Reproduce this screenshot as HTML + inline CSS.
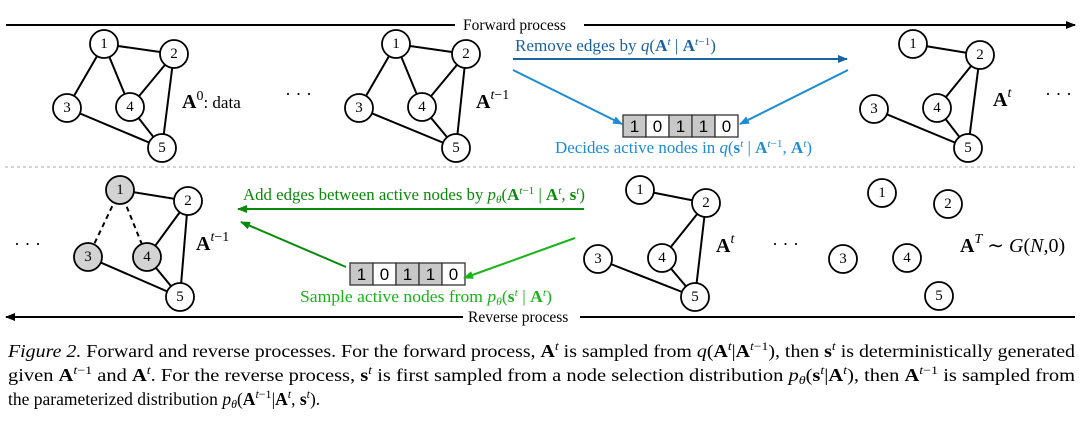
<!DOCTYPE html>
<html><head><meta charset="utf-8"><style>
html,body{margin:0;padding:0;background:#fff;}
svg{display:block;font-family:"Liberation Serif",serif;}
.n{font-size:15px;text-anchor:middle;dominant-baseline:central;}
</style></head><body>
<svg width="1080" height="433" viewBox="0 0 1080 433" xmlns="http://www.w3.org/2000/svg">
<defs>
<marker id="ak" markerWidth="10" markerHeight="8" refX="9" refY="4" orient="auto" markerUnits="userSpaceOnUse"><path d="M0,0 L10,4 L0,8 z" fill="#000"/></marker>
<marker id="ab" markerWidth="10" markerHeight="8" refX="9" refY="4" orient="auto" markerUnits="userSpaceOnUse"><path d="M0,0 L10,4 L0,8 z" fill="#1b62a0"/></marker>
<marker id="ac" markerWidth="10" markerHeight="8" refX="9" refY="4" orient="auto" markerUnits="userSpaceOnUse"><path d="M0,0 L10,4 L0,8 z" fill="#1e8bd6"/></marker>
<marker id="ag" markerWidth="10" markerHeight="8" refX="9" refY="4" orient="auto" markerUnits="userSpaceOnUse"><path d="M0,0 L10,4 L0,8 z" fill="#0a8a0a"/></marker>
<marker id="al" markerWidth="10" markerHeight="8" refX="9" refY="4" orient="auto" markerUnits="userSpaceOnUse"><path d="M0,0 L10,4 L0,8 z" fill="#1ab31a"/></marker>
</defs>

<line x1="6" y1="25" x2="455" y2="25" stroke="#000" stroke-width="2"/>
<text x="463" y="30" font-size="15.5">Forward process</text>
<line x1="584" y1="25" x2="1075" y2="25" stroke="#000" stroke-width="2" marker-end="url(#ak)"/>

<g stroke="#000" stroke-width="2">
<line x1="104" y1="44" x2="174" y2="54"/><line x1="104" y1="44" x2="67" y2="108"/><line x1="104" y1="44" x2="130" y2="107"/>
<line x1="174" y1="54" x2="130" y2="107"/><line x1="174" y1="54" x2="162" y2="148"/><line x1="67" y1="108" x2="162" y2="148"/><line x1="130" y1="107" x2="162" y2="148"/>
<line x1="396" y1="44" x2="466" y2="54"/><line x1="396" y1="44" x2="359" y2="108"/><line x1="396" y1="44" x2="422" y2="107"/>
<line x1="466" y1="54" x2="422" y2="107"/><line x1="466" y1="54" x2="456" y2="148"/><line x1="359" y1="108" x2="456" y2="148"/><line x1="422" y1="107" x2="456" y2="148"/>
<line x1="913" y1="44" x2="980" y2="55"/><line x1="980" y1="55" x2="937" y2="108"/><line x1="980" y1="55" x2="968" y2="148"/><line x1="874" y1="109" x2="968" y2="148"/><line x1="937" y1="108" x2="968" y2="148"/>
<line x1="120" y1="190" x2="188" y2="201"/><line x1="188" y1="201" x2="147" y2="257"/><line x1="188" y1="201" x2="180" y2="297"/><line x1="88" y1="257" x2="180" y2="297"/><line x1="147" y1="257" x2="180" y2="297"/>
<line x1="120" y1="190" x2="88" y2="257" stroke-dasharray="5,4"/><line x1="120" y1="190" x2="147" y2="257" stroke-dasharray="5,4"/>
<line x1="640" y1="190" x2="706" y2="203"/><line x1="706" y1="203" x2="662" y2="258"/><line x1="706" y1="203" x2="695" y2="297"/><line x1="598" y1="259" x2="695" y2="297"/><line x1="662" y1="258" x2="695" y2="297"/>
</g>

<g stroke="#000" stroke-width="1.8" fill="#fff">
<circle cx="104" cy="44" r="14"/><circle cx="174" cy="54" r="14"/><circle cx="67" cy="108" r="14"/><circle cx="130" cy="107" r="14"/><circle cx="162" cy="148" r="14"/>
<circle cx="396" cy="44" r="14"/><circle cx="466" cy="54" r="14"/><circle cx="359" cy="108" r="14"/><circle cx="422" cy="107" r="14"/><circle cx="456" cy="148" r="14"/>
<circle cx="913" cy="44" r="14"/><circle cx="980" cy="55" r="14"/><circle cx="874" cy="109" r="14"/><circle cx="937" cy="108" r="14"/><circle cx="968" cy="148" r="14"/>
<circle cx="120" cy="190" r="14" fill="#d3d3d3"/><circle cx="188" cy="201" r="14"/><circle cx="88" cy="257" r="14" fill="#d3d3d3"/><circle cx="147" cy="257" r="14" fill="#d3d3d3"/><circle cx="180" cy="297" r="14"/>
<circle cx="640" cy="190" r="14"/><circle cx="706" cy="203" r="14"/><circle cx="598" cy="259" r="14"/><circle cx="662" cy="258" r="14"/><circle cx="695" cy="297" r="14"/>
<circle cx="882" cy="193" r="14"/><circle cx="948" cy="204" r="14"/><circle cx="843" cy="259" r="14"/><circle cx="907" cy="258" r="14"/><circle cx="939" cy="296" r="14"/>
</g>
<g class="n">
<text x="104" y="44">1</text><text x="174" y="54">2</text><text x="67" y="108">3</text><text x="130" y="107">4</text><text x="162" y="148">5</text>
<text x="396" y="44">1</text><text x="466" y="54">2</text><text x="359" y="108">3</text><text x="422" y="107">4</text><text x="456" y="148">5</text>
<text x="913" y="44">1</text><text x="980" y="55">2</text><text x="874" y="109">3</text><text x="937" y="108">4</text><text x="968" y="148">5</text>
<text x="120" y="190">1</text><text x="188" y="201">2</text><text x="88" y="257">3</text><text x="147" y="257">4</text><text x="180" y="297">5</text>
<text x="640" y="190">1</text><text x="706" y="203">2</text><text x="598" y="259">3</text><text x="662" y="258">4</text><text x="695" y="297">5</text>
<text x="882" y="193">1</text><text x="948" y="204">2</text><text x="843" y="259">3</text><text x="907" y="258">4</text><text x="939" y="296">5</text>
</g>

<text x="182" y="108" font-size="20"><tspan font-weight="bold">A</tspan><tspan font-size="14" dy="-8">0</tspan><tspan dy="8" font-size="17">: data</tspan></text>
<text x="285" y="100" font-size="18">· · ·</text>
<text x="476" y="108" font-size="20"><tspan font-weight="bold">A</tspan><tspan font-size="14" dy="-9" font-style="italic">t</tspan><tspan font-size="14">−1</tspan></text>
<text x="993" y="106" font-size="20"><tspan font-weight="bold">A</tspan><tspan font-size="14" dy="-9" font-style="italic">t</tspan></text>
<text x="1045" y="100" font-size="18">· · ·</text>

<text x="14" y="250" font-size="18">· · ·</text>
<text x="196" y="250" font-size="20"><tspan font-weight="bold">A</tspan><tspan font-size="14" dy="-9" font-style="italic">t</tspan><tspan font-size="14">−1</tspan></text>
<text x="716" y="252" font-size="20"><tspan font-weight="bold">A</tspan><tspan font-size="14" dy="-9" font-style="italic">t</tspan></text>
<text x="772" y="250" font-size="18">· · ·</text>
<text x="960" y="252" font-size="20"><tspan font-weight="bold">A</tspan><tspan font-size="14" dy="-9" font-style="italic">T</tspan><tspan dy="9"> ∼ </tspan><tspan font-style="italic">G</tspan>(<tspan font-style="italic">N</tspan>,0)</text>

<text x="515" y="51" font-size="16.5" fill="#1b62a0" textLength="201" lengthAdjust="spacingAndGlyphs">Remove edges by <tspan font-style="italic">q</tspan>(<tspan font-weight="bold">A</tspan><tspan font-style="italic" font-size="11" dy="-6">t</tspan><tspan dy="6"> | </tspan><tspan font-weight="bold">A</tspan><tspan font-style="italic" font-size="11" dy="-6">t</tspan><tspan font-size="11">−1</tspan><tspan dy="6">)</tspan></text>
<line x1="513" y1="59" x2="847" y2="59" stroke="#1b62a0" stroke-width="2" marker-end="url(#ab)"/>
<line x1="513" y1="70" x2="622" y2="124" stroke="#1e8bd6" stroke-width="2" marker-end="url(#ac)"/>
<line x1="848" y1="70" x2="740" y2="124" stroke="#1e8bd6" stroke-width="2" marker-end="url(#ac)"/>
<text x="555" y="153" font-size="16.5" fill="#1e8bd6" textLength="257" lengthAdjust="spacingAndGlyphs">Decides active nodes in <tspan font-style="italic">q</tspan>(<tspan font-weight="bold">s</tspan><tspan font-style="italic" font-size="11" dy="-6">t</tspan><tspan dy="6"> | </tspan><tspan font-weight="bold">A</tspan><tspan font-style="italic" font-size="11" dy="-6">t</tspan><tspan font-size="11">−1</tspan><tspan dy="6">, </tspan><tspan font-weight="bold">A</tspan><tspan font-style="italic" font-size="11" dy="-6">t</tspan><tspan dy="6">)</tspan></text>

<g stroke="#333" stroke-width="1.3">
<rect x="623" y="115" width="23" height="22" fill="#c8c8c8"/><rect x="646" y="115" width="23" height="22" fill="#fff"/><rect x="669" y="115" width="23" height="22" fill="#c8c8c8"/><rect x="692" y="115" width="23" height="22" fill="#c8c8c8"/><rect x="715" y="115" width="23" height="22" fill="#fff"/>
<rect x="350" y="263" width="23" height="22" fill="#c8c8c8"/><rect x="373" y="263" width="23" height="22" fill="#fff"/><rect x="396" y="263" width="23" height="22" fill="#c8c8c8"/><rect x="419" y="263" width="23" height="22" fill="#c8c8c8"/><rect x="442" y="263" width="23" height="22" fill="#fff"/>
</g>
<g font-family="Liberation Sans, sans-serif" font-size="17" text-anchor="middle">
<text x="634.5" y="132">1</text><text x="657.5" y="132">0</text><text x="680.5" y="132">1</text><text x="703.5" y="132">1</text><text x="726.5" y="132">0</text>
<text x="361.5" y="280">1</text><text x="384.5" y="280">0</text><text x="407.5" y="280">1</text><text x="430.5" y="280">1</text><text x="453.5" y="280">0</text>
</g>

<line x1="5" y1="167" x2="1075" y2="167" stroke="#aaa" stroke-width="1" stroke-dasharray="3,3"/>

<text x="243" y="200" font-size="16.5" fill="#0a8a0a" textLength="342" lengthAdjust="spacingAndGlyphs">Add edges between active nodes by <tspan font-style="italic">p<tspan font-size="11" dy="3">θ</tspan></tspan><tspan dy="-3">(</tspan><tspan font-weight="bold">A</tspan><tspan font-style="italic" font-size="11" dy="-6">t</tspan><tspan font-size="11">−1</tspan><tspan dy="6"> | </tspan><tspan font-weight="bold">A</tspan><tspan font-style="italic" font-size="11" dy="-6">t</tspan><tspan dy="6">, </tspan><tspan font-weight="bold">s</tspan><tspan font-style="italic" font-size="11" dy="-6">t</tspan><tspan dy="6">)</tspan></text>
<line x1="584" y1="209" x2="238" y2="209" stroke="#0a8a0a" stroke-width="2" marker-end="url(#ag)"/>
<line x1="346" y1="267" x2="241" y2="222" stroke="#0a8a0a" stroke-width="2" marker-end="url(#ag)"/>
<line x1="575" y1="238" x2="464" y2="278" stroke="#1ab31a" stroke-width="2" marker-end="url(#al)"/>
<text x="300" y="302" font-size="16.5" fill="#1ab31a" textLength="252" lengthAdjust="spacingAndGlyphs">Sample active nodes from <tspan font-style="italic">p<tspan font-size="11" dy="3">θ</tspan></tspan><tspan dy="-3">(</tspan><tspan font-weight="bold">s</tspan><tspan font-style="italic" font-size="11" dy="-6">t</tspan><tspan dy="6"> | </tspan><tspan font-weight="bold">A</tspan><tspan font-style="italic" font-size="11" dy="-6">t</tspan><tspan dy="6">)</tspan></text>

<line x1="463" y1="317" x2="6" y2="317" stroke="#000" stroke-width="2" marker-end="url(#ak)"/>
<text x="468" y="322" font-size="15.5">Reverse process</text>
<line x1="580" y1="317" x2="1075" y2="317" stroke="#000" stroke-width="2"/>

<g font-size="17.5">
<text x="8" y="357" textLength="1067" lengthAdjust="spacingAndGlyphs"><tspan font-style="italic">Figure 2.</tspan> Forward and reverse processes. For the forward process, <tspan font-weight="bold">A</tspan><tspan font-size="12" dy="-7" font-style="italic">t</tspan><tspan dy="7"> is sampled from </tspan><tspan font-style="italic">q</tspan>(<tspan font-weight="bold">A</tspan><tspan font-size="12" dy="-7" font-style="italic">t</tspan><tspan dy="7">|</tspan><tspan font-weight="bold">A</tspan><tspan font-size="12" dy="-7"><tspan font-style="italic">t</tspan>−1</tspan><tspan dy="7">), then </tspan><tspan font-weight="bold">s</tspan><tspan font-size="12" dy="-7" font-style="italic">t</tspan><tspan dy="7"> is deterministically generated</tspan></text>
<text x="8" y="381" textLength="1067" lengthAdjust="spacingAndGlyphs">given <tspan font-weight="bold">A</tspan><tspan font-size="12" dy="-7"><tspan font-style="italic">t</tspan>−1</tspan><tspan dy="7"> and </tspan><tspan font-weight="bold">A</tspan><tspan font-size="12" dy="-7" font-style="italic">t</tspan><tspan dy="7">. For the reverse process, </tspan><tspan font-weight="bold">s</tspan><tspan font-size="12" dy="-7" font-style="italic">t</tspan><tspan dy="7"> is first sampled from a node selection distribution </tspan><tspan font-style="italic">p</tspan><tspan font-size="12" dy="3" font-style="italic">θ</tspan><tspan dy="-3">(</tspan><tspan font-weight="bold">s</tspan><tspan font-size="12" dy="-7" font-style="italic">t</tspan><tspan dy="7">|</tspan><tspan font-weight="bold">A</tspan><tspan font-size="12" dy="-7" font-style="italic">t</tspan><tspan dy="7">), then </tspan><tspan font-weight="bold">A</tspan><tspan font-size="12" dy="-7"><tspan font-style="italic">t</tspan>−1</tspan><tspan dy="7"> is sampled from</tspan></text>
<text x="8" y="405">the parameterized distribution <tspan font-style="italic">p</tspan><tspan font-size="12" dy="3" font-style="italic">θ</tspan><tspan dy="-3">(</tspan><tspan font-weight="bold">A</tspan><tspan font-size="12" dy="-7"><tspan font-style="italic">t</tspan>−1</tspan><tspan dy="7">|</tspan><tspan font-weight="bold">A</tspan><tspan font-size="12" dy="-7" font-style="italic">t</tspan><tspan dy="7">, </tspan><tspan font-weight="bold">s</tspan><tspan font-size="12" dy="-7" font-style="italic">t</tspan><tspan dy="7">).</tspan></text>
</g>
</svg>
</body></html>
